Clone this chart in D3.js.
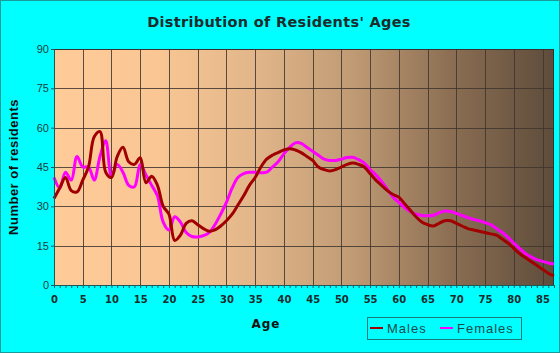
<!DOCTYPE html>
<html>
<head>
<meta charset="utf-8">
<script src="https://cdn.jsdelivr.net/npm/d3@7"></script>
<style>
  body { margin: 0; background: #00ffff; }
  svg { display: block; }
</style>
</head>
<body>
<div id="wrapper"></div>
<script>
// ages 0..87, one value per year
const ages = d3.range(0, 88);

const males = [
  33, 37, 41, 36, 35.5, 40, 45, 56.5, 58.5, 43,
  41, 49, 52.5, 47, 46, 48.5, 39, 41.5, 38, 30,
  27, 17, 19, 23.5, 24.5, 23, 21.5, 20.5, 21, 22.5,
  24.5, 27, 30.5, 34, 38, 41, 45, 48, 49.5, 50.5,
  51.5, 52, 51.5, 50.5, 49, 47.5, 45, 44, 43.5, 44,
  45, 46, 46.5, 46, 45, 42.5, 40, 38, 36, 34.5,
  33.5, 31, 28.5, 26, 24, 23, 22.5, 23.5, 24.5, 24.5,
  23.5, 22.5, 21.5, 21, 20.5, 20, 19.5, 19, 17.5, 16,
  14, 12, 10.5, 9, 7.5, 6, 4.5, 3.5
];

const females = [
  41, 37, 43, 40, 49, 45, 45, 40, 49, 55,
  41.5, 46, 43, 38, 37.5, 46, 42, 38, 34, 24,
  21, 26, 24, 20, 18.5, 18.3, 18.8, 20, 23, 27,
  31.5, 37, 41, 42.5, 43, 43, 42.8, 43, 45, 47,
  50, 52.5, 54.2, 54, 52.5, 51, 49.5, 48, 47.5, 47.5,
  48, 48.6, 48.7, 47.8, 46.5, 44, 42, 39.5, 36.5, 33.5,
  31.5, 29.5, 28, 27, 26.5, 26.4, 26.6, 27.5, 28.2, 28,
  27.3, 26.5, 25.7, 25, 24.5, 23.8, 23, 21.5, 20, 18.2,
  16, 14, 12, 10.7, 9.7, 9, 8.4, 8
];

const xTicks = d3.range(0, 90, 5);
const yTicks = d3.range(0, 91, 15);

const series = [
  { name: "Males", values: males, color: "#a00000" },
  { name: "Females", values: females, color: "#ff00ff" },
];

// dimensions
const dimensions = {
  width: 560,
  height: 353,
  margin: { top: 49, right: 6, bottom: 68, left: 54 },
};
dimensions.boundedWidth = dimensions.width - dimensions.margin.left - dimensions.margin.right;
dimensions.boundedHeight = dimensions.height - dimensions.margin.top - dimensions.margin.bottom;

const svg = d3.select("#wrapper")
  .append("svg")
    .attr("width", dimensions.width)
    .attr("height", dimensions.height);

svg.append("rect")
    .attr("x", 0.5).attr("y", 0.5)
    .attr("width", dimensions.width - 1)
    .attr("height", dimensions.height - 1)
    .attr("fill", "#00ffff")
    .attr("stroke", "#1a9a9a");

// background gradient
const grad = svg.append("defs").append("linearGradient")
    .attr("id", "bg")
    .attr("x1", "0%").attr("x2", "100%").attr("y1", "0%").attr("y2", "0%");
[
  [0, "#ffcc99"], [0.2, "#fac794"], [0.4, "#e2b68a"], [0.6, "#bf9a74"],
  [0.8, "#8a6d52"], [1, "#5e4c3b"],
].forEach(([o, c]) => grad.append("stop").attr("offset", o).attr("stop-color", c));

const bounds = svg.append("g")
    .attr("transform", `translate(${dimensions.margin.left}, ${dimensions.margin.top})`);

const x = d3.scaleLinear().domain([0, 87]).range([0, dimensions.boundedWidth]);
const y = d3.scaleLinear().domain([0, 90]).range([dimensions.boundedHeight, 0]);

bounds.append("rect")
    .attr("width", dimensions.boundedWidth)
    .attr("height", dimensions.boundedHeight)
    .attr("fill", "url(#bg)");

// grid
bounds.append("g")
  .selectAll("line")
  .data(xTicks.filter(d => d > 0))
  .join("line")
    .attr("x1", d => Math.round(x(d)) + 0.5)
    .attr("x2", d => Math.round(x(d)) + 0.5)
    .attr("y1", 0)
    .attr("y2", dimensions.boundedHeight)
    .attr("stroke", "#3f352e")
    .attr("stroke-opacity", 0.85);

bounds.append("g")
  .selectAll("line")
  .data(yTicks.filter(d => d > 0))
  .join("line")
    .attr("x1", 0)
    .attr("x2", dimensions.boundedWidth)
    .attr("y1", d => Math.round(y(d)) + 0.5)
    .attr("y2", d => Math.round(y(d)) + 0.5)
    .attr("stroke", "#3f352e")
    .attr("stroke-opacity", 0.85);

bounds.append("rect")
    .attr("x", 0.5).attr("y", 0.5)
    .attr("width", dimensions.boundedWidth - 1)
    .attr("height", dimensions.boundedHeight)
    .attr("fill", "none")
    .attr("stroke", "#333");

// lines
const lineGen = d3.line()
    .x((d, i) => x(ages[i]))
    .y(d => y(d))
    .curve(d3.curveCatmullRom.alpha(0.5));

bounds.append("g")
  .selectAll("path")
  .data(series.slice().reverse())
  .join("path")
    .attr("d", d => lineGen(d.values))
    .attr("fill", "none")
    .attr("stroke", d => d.color)
    .attr("stroke-width", 3)
    .attr("stroke-linejoin", "round");

// axes
const xAxis = d3.axisBottom(x)
    .tickValues(d3.range(0, 88, 1))
    .tickSize(3)
    .tickFormat(d => d % 5 === 0 ? d : "");
const xAxisG = bounds.append("g")
    .attr("transform", `translate(0, ${dimensions.boundedHeight})`)
    .call(xAxis);
xAxisG.select(".domain").attr("stroke", "#1a5a5a");
xAxisG.selectAll(".tick line").attr("stroke", "#1a5a5a");
xAxisG.selectAll("text")
    .attr("y", 11)
    .attr("fill", "#1c2c2c")
    .style("font-family", "Verdana, 'DejaVu Sans', sans-serif")
    .style("font-size", "10px")
    .style("font-weight", "bold");

const yAxis = d3.axisLeft(y).tickValues(yTicks).tickSize(3);
const yAxisG = bounds.append("g").call(yAxis);
yAxisG.select(".domain").attr("stroke", "#1a5a5a");
yAxisG.selectAll(".tick line").attr("stroke", "#1a5a5a");
yAxisG.selectAll("text")
    .attr("x", -5)
    .attr("fill", "#1c3c3c")
    .style("font-family", "Arial, 'Liberation Sans', sans-serif")
    .style("font-size", "11px");

// titles
svg.append("text")
    .attr("x", 279)
    .attr("y", 27)
    .attr("text-anchor", "middle")
    .style("font-family", "Verdana, 'DejaVu Sans', sans-serif")
    .style("font-size", "14.5px")
    .style("font-weight", "bold")
    .style("letter-spacing", "0.3px")
    .attr("fill", "#1c2c2c")
    .text("Distribution of Residents' Ages");

svg.append("text")
    .attr("transform", `translate(18, 167) rotate(-90)`)
    .attr("text-anchor", "middle")
    .style("font-family", "Arial, 'Liberation Sans', sans-serif")
    .style("font-size", "13px")
    .style("font-weight", "bold")
    .style("letter-spacing", "0.5px")
    .attr("fill", "#111")
    .text("Number of residents");

svg.append("text")
    .attr("x", 266)
    .attr("y", 328)
    .attr("text-anchor", "middle")
    .style("font-family", "Verdana, 'DejaVu Sans', sans-serif")
    .style("font-size", "12px")
    .style("font-weight", "bold")
    .style("letter-spacing", "1px")
    .attr("fill", "#111")
    .text("Age");

// legend
const legend = svg.append("g").attr("transform", "translate(367, 317)");
legend.append("rect")
    .attr("x", 0.5).attr("y", 0.5)
    .attr("width", 154).attr("height", 22)
    .attr("fill", "none")
    .attr("stroke", "#1a7a7a");

const legendItems = legend.selectAll("g")
  .data(series)
  .join("g")
    .attr("transform", (d, i) => `translate(${i === 0 ? 3 : 73}, 0)`);
legendItems.append("line")
    .attr("x1", 0).attr("x2", 13)
    .attr("y1", 11).attr("y2", 11)
    .attr("stroke", d => d.color)
    .attr("stroke-width", 2);
legendItems.append("text")
    .attr("x", 17)
    .attr("y", 16)
    .style("font-family", "Arial, 'Liberation Sans', sans-serif")
    .style("font-size", "13px")
    .style("letter-spacing", "1px")
    .attr("fill", "#1a4a4a")
    .text(d => d.name);
</script>
</body>
</html>
